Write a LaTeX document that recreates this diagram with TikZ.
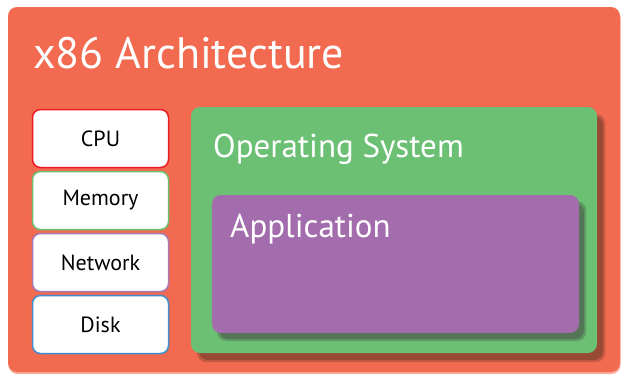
\documentclass[tikz,border=0pt]{standalone}
\usepackage{fontspec}
\setmainfont{PT Sans}
\definecolor{archorange}{RGB}{242,106,79}
\definecolor{osgreen}{RGB}{108,192,115}
\definecolor{appurple}{RGB}{163,108,172}
\definecolor{shadebrown}{RGB}{152,74,52}
\definecolor{shadegreen}{RGB}{82,118,86}
\definecolor{cpured}{RGB}{237,28,36}
\definecolor{memgreen}{RGB}{108,192,112}
\definecolor{netpurple}{RGB}{165,122,181}
\definecolor{diskblue}{RGB}{63,143,210}
\tikzset{
  panel/.style={rectangle, rounded corners=9pt, inner sep=0pt, draw=none},
  hwbox/.style={rectangle, rounded corners=8pt, fill=white, line width=1.5pt,
    minimum width=136pt, minimum height=58pt, inner sep=0pt,
    font=\fontsize{22}{26}\selectfont, text=black},
  bigtitle/.style={anchor=base west, inner sep=0pt, text=white,
    font=\fontsize{44}{50}\selectfont},
  midtitle/.style={anchor=base west, inner sep=0pt, text=white,
    font=\fontsize{33}{38}\selectfont},
}
\begin{document}
\begin{tikzpicture}[x=1pt,y=-1pt]
\useasboundingbox (0,0) rectangle (621,375);
% outer panel with faint shadow
\node[panel, fill=archorange!55!white, minimum width=612pt, minimum height=365pt] (archshadow) at (314.5,191.5) {};
\node[panel, fill=archorange, minimum width=612pt, minimum height=365pt] (arch) at (314,189.5) {};
\node[bigtitle] (archtitle) at (33,68) {x86 Architecture};
% hardware boxes
\node[hwbox, draw=cpured] (cpu) at (100.5,138.5) {CPU};
\node[hwbox, draw=memgreen] (mem) at (100.5,200.5) {Memory};
\node[hwbox, draw=netpurple] (net) at (100.5,262.5) {Network};
\node[hwbox, draw=diskblue] (disk) at (100.5,324.5) {Disk};
% operating system panel
\node[panel, fill=shadebrown, opacity=0.5, minimum width=408pt, minimum height=248pt] (osshadowb) at (401,238) {};
\node[panel, fill=shadebrown, minimum width=404pt, minimum height=244pt] (osshadow) at (401,238) {};
\node[panel, fill=osgreen, minimum width=406pt, minimum height=246pt] (os) at (394,230) {};
\node[midtitle] (ostitle) at (213,157) {Operating System};
% application panel
\node[panel, fill=shadegreen, opacity=0.5, minimum width=369pt, minimum height=140pt] (appshadowb) at (401.5,271) {};
\node[panel, fill=shadegreen, minimum width=365pt, minimum height=136pt] (appshadow) at (401.5,271) {};
\node[panel, fill=appurple, minimum width=367pt, minimum height=138pt] (app) at (395.5,264) {};
\node[midtitle] (apptitle) at (230,237) {Application};
\end{tikzpicture}
\end{document}
